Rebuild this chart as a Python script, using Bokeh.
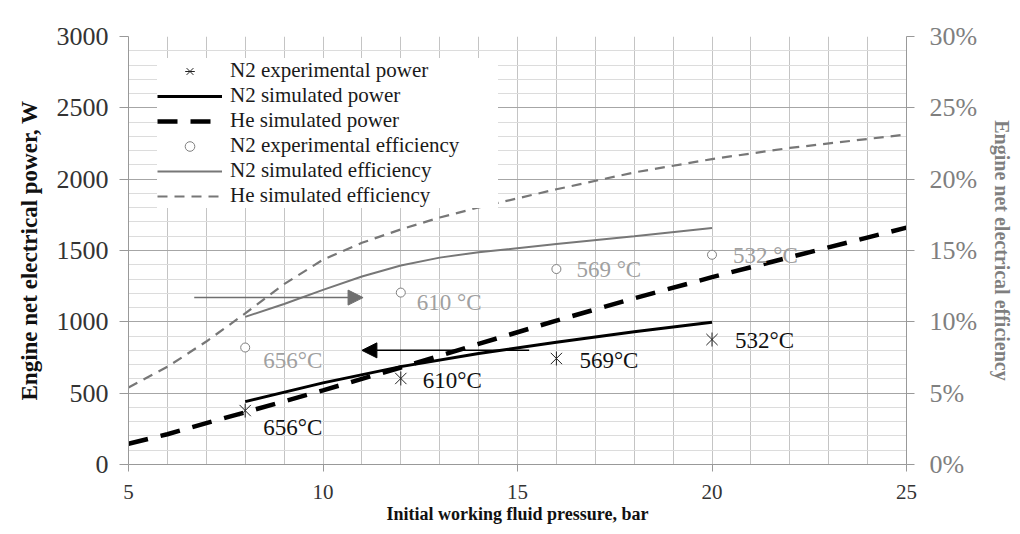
import math
from bokeh.plotting import figure
from bokeh.models import (Range1d, LinearAxis, SingleIntervalTicker, FixedTicker, NumeralTickFormatter,
                          Legend, LegendItem, Arrow, NormalHead, ColumnDataSource)
from bokeh.core.properties import value
from bokeh.embed import file_html
from bokeh.resources import INLINE

# ---------------- data ----------------
exp_pressure = [8, 12, 16, 20]
n2_exp_power = [378, 603, 743, 876]
n2_exp_eff = [0.082, 0.1205, 0.137, 0.147]
power_temp_labels = ["656°C", "610°C", "569°C", "532°C"]
eff_temp_labels = ["656°C", "610 °C", "569 °C", "532 °C"]

n2_sim_p = [8, 10, 12, 14, 16, 18, 20]
n2_sim_power = [441, 572, 686, 778, 857, 930, 997]

he_sim_p = [5, 6, 7, 8, 10, 12, 14, 16, 18, 20, 22, 25]
he_sim_power = [145, 212, 290, 366, 520, 680, 845, 1009, 1165, 1313, 1453, 1660]

n2_eff_p = [8, 9, 10, 11, 12, 13, 14, 16, 18, 20]
n2_sim_eff = [0.1035, 0.1125, 0.1224, 0.1318, 0.1395, 0.1450, 0.1488, 0.1545, 0.1600, 0.1658]

he_eff_p = [5, 6, 7, 8, 9, 10, 11, 12, 13, 14, 16, 18, 20, 22, 25]
he_sim_eff = [0.054, 0.0685, 0.0862, 0.1059, 0.1264, 0.1436, 0.1554, 0.1648, 0.1731,
              0.1802, 0.1929, 0.2047, 0.2141, 0.2219, 0.2313]

eff_ticks = [0, 0.05, 0.10, 0.15, 0.20, 0.25, 0.30]

# arrows (pressure start, pressure end, level on power axis)
eff_arrow = (6.69, 11.03, 1170)
power_arrow = (15.3, 11.0, 800)

# label offsets (screen px), style only
power_label_dx = [18, 22, 23, 23]
power_label_dy = [17, 2, 2, 1]
eff_label_dx = [18, 16, 20, 21]
eff_label_dy = [13, 10, 0, 1]

GRAY = "#7f7f7f"
LGRAY = "#a0a0a0"
SERIF = "Liberation Serif"

p = figure(width=1016, height=532, output_backend="svg", toolbar_location=None,
           x_range=Range1d(5, 25), y_range=Range1d(0, 3000),
           min_border_left=128, min_border_right=109, min_border_top=36, min_border_bottom=68)
p.outline_line_color = None
p.background_fill_color = "white"
p.extra_y_ranges = {"eff": Range1d(0, 0.30)}

# axes
p.xaxis.ticker = SingleIntervalTicker(interval=5, num_minor_ticks=0)
p.yaxis.ticker = SingleIntervalTicker(interval=500, num_minor_ticks=5)
for ax in (p.xaxis[0], p.yaxis[0]):
    ax.axis_line_color = "#999999"
    ax.major_tick_line_color = "#999999"
    ax.minor_tick_in = 0
    ax.minor_tick_out = 0
    ax.major_tick_in = 0
    ax.major_label_text_font = SERIF
    ax.major_label_text_color = "#333333"
    ax.axis_label_text_font = SERIF
    ax.axis_label_text_font_style = "bold"
    ax.axis_label_text_color = "#111111"

p.xaxis.major_tick_out = 7
p.xaxis.major_label_standoff = 13
p.xaxis.major_label_text_font_size = "21px"
p.xaxis.axis_label = "Initial working fluid pressure, bar"
p.xaxis.axis_label_text_font_size = "18px"
p.xaxis.axis_label_standoff = 2

p.yaxis.major_tick_out = 9
p.yaxis.major_label_standoff = 11
p.yaxis.major_label_text_font_size = "26px"
p.yaxis.axis_label = "Engine net electrical power, W"
p.yaxis.axis_label_text_font_size = "23px"
p.yaxis.axis_label_standoff = 12

right = LinearAxis(y_range_name="eff", ticker=FixedTicker(ticks=eff_ticks),
                   formatter=NumeralTickFormatter(format="0%"))
right.axis_line_color = "#999999"
right.major_tick_line_color = "#999999"
right.major_tick_in = 0
right.major_tick_out = 8
right.minor_tick_in = 0
right.minor_tick_out = 0
right.major_label_standoff = 15
right.major_label_text_font = SERIF
right.major_label_text_font_size = "26px"
right.major_label_text_color = GRAY
right.axis_label = "Engine net electrical efficiency"
right.axis_label_text_font = SERIF
right.axis_label_text_font_style = "bold"
right.axis_label_text_font_size = "20px"
right.axis_label_text_color = GRAY
right.axis_label_standoff = 11
p.add_layout(right, "right")

# grid
p.xgrid.ticker = SingleIntervalTicker(interval=1, num_minor_ticks=0)
p.xgrid.grid_line_color = "#c4c4c4"
p.ygrid.grid_line_color = "#a6a6a6"
p.ygrid.minor_grid_line_color = "#dcdcdc"

# series
r_n2p = p.line(n2_sim_p, n2_sim_power, line_color="black", line_width=3)
r_hep = p.line(he_sim_p, he_sim_power, line_color="black", line_width=4.5, line_dash="20 13")
r_n2e = p.line(n2_eff_p, n2_sim_eff, y_range_name="eff", line_color="#777777", line_width=2)
r_hee = p.line(he_eff_p, he_sim_eff, y_range_name="eff", line_color="#777777", line_width=2.2,
               line_dash="10 7")
r_expp_x = p.scatter(exp_pressure, n2_exp_power, marker="x", size=16,
                     line_color="#222222", line_width=1)
r_expp_v = p.scatter(exp_pressure, n2_exp_power, marker="dash", size=14, angle=math.pi / 2,
                     line_color="#222222", line_width=1)
r_expe = p.scatter(exp_pressure, n2_exp_eff, y_range_name="eff", marker="circle", size=9,
                   fill_color="white", line_color=GRAY, line_width=1)

# temperature labels
src_p = ColumnDataSource(dict(x=exp_pressure, y=n2_exp_power, t=power_temp_labels,
                              dx=power_label_dx, dy=power_label_dy))
p.text(x="x", y="y", text="t", x_offset="dx", y_offset="dy", source=src_p,
       text_font=value(SERIF), text_font_size="23px", text_color="#111111",
       text_align="left", text_baseline="middle")
src_e = ColumnDataSource(dict(x=exp_pressure, y=n2_exp_eff, t=eff_temp_labels,
                              dx=eff_label_dx, dy=eff_label_dy))
p.text(x="x", y="y", text="t", x_offset="dx", y_offset="dy", source=src_e,
       y_range_name="eff",
       text_font=value(SERIF), text_font_size="23px", text_color=LGRAY,
       text_align="left", text_baseline="middle")

# arrows
p.add_layout(Arrow(x_start=eff_arrow[0], x_end=eff_arrow[1], y_start=eff_arrow[2], y_end=eff_arrow[2],
                   line_color="#6f6f6f", line_width=1.5,
                   end=NormalHead(size=15, fill_color="#6f6f6f", line_color="#6f6f6f")))
p.add_layout(Arrow(x_start=power_arrow[0], x_end=power_arrow[1], y_start=power_arrow[2], y_end=power_arrow[2],
                   line_color="black", line_width=1.5,
                   end=NormalHead(size=15, fill_color="black", line_color="black")))

# legend
legend = Legend(items=[
    LegendItem(label="N2 experimental power", renderers=[r_expp_x, r_expp_v]),
    LegendItem(label="N2 simulated power", renderers=[r_n2p]),
    LegendItem(label="He simulated power", renderers=[r_hep]),
    LegendItem(label="N2 experimental efficiency", renderers=[r_expe]),
    LegendItem(label="N2 simulated efficiency", renderers=[r_n2e]),
    LegendItem(label="He simulated efficiency", renderers=[r_hee]),
], location=(29, 256))
legend.label_text_font = SERIF
legend.label_text_font_size = "21px"
legend.label_text_color = "#1a1a1a"
legend.glyph_width = 65
legend.glyph_height = 24
legend.label_height = 24
legend.label_standoff = 8
legend.label_width = 268
legend.spacing = 0
legend.padding = 4
legend.margin = 0
legend.border_line_color = None
legend.background_fill_color = "white"
legend.background_fill_alpha = 1.0
p.add_layout(legend)

open("out.html", "w").write(file_html(p, INLINE))
